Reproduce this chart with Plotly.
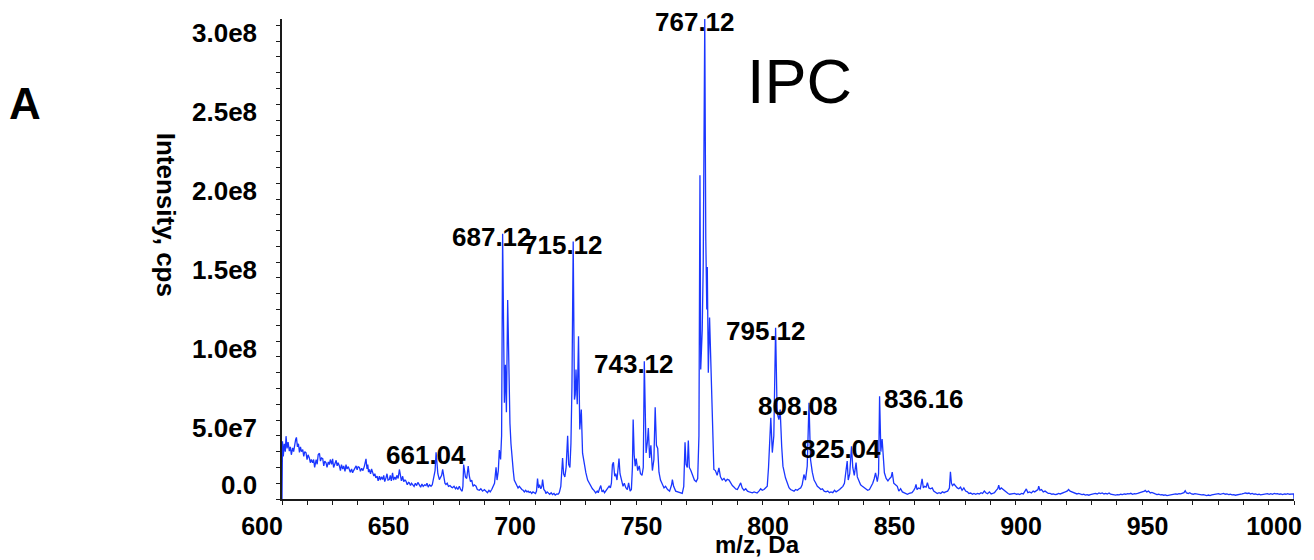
import plotly.graph_objects as go

# ---------------- data (m/z, intensity in 1e6 cps) ----------------
SEG_600_660 = [
    (600.0, 0), (600.2, 36.6), (600.5, 27), (600.9, 35), (601.3, 30), (601.6, 39.8),
    (602.0, 32), (602.4, 36), (602.9, 30.3), (603.3, 33), (603.7, 28), (604.2, 32.4),
    (604.6, 30), (605.0, 35), (605.4, 37.7), (605.7, 39), (606.1, 33), (606.5, 35),
    (606.9, 29.5), (607.3, 33), (607.7, 30), (608.2, 31.3), (608.6, 27), (609.0, 30),
    (609.5, 29.2), (609.9, 25), (610.3, 28), (610.8, 26), (611.2, 23), (611.6, 25),
    (612.1, 22.9), (612.5, 25), (612.9, 20), (613.5, 25), (613.9, 22), (614.3, 28),
    (614.8, 29), (615.2, 24), (615.6, 26), (616.1, 25.5), (616.5, 21), (616.9, 24),
    (617.4, 22.9), (617.8, 20), (618.3, 23.5), (618.7, 21.8), (619.1, 25), (619.6, 22),
    (620.0, 25.4), (620.4, 20), (620.9, 23), (621.4, 24.5), (621.8, 21), (622.2, 23),
    (622.7, 20.8), (623.1, 18), (623.5, 21.8), (624.0, 19), (624.4, 21), (624.9, 17.5),
    (625.3, 21.8), (625.7, 19), (626.2, 20.5), (626.6, 18.5), (627.0, 17), (627.5, 19),
    (627.9, 16.6), (628.3, 18), (628.8, 20), (629.3, 21), (629.7, 18.5), (630.1, 20.5),
    (630.6, 20), (631.0, 17.5), (631.5, 19.5), (632.0, 18), (632.6, 21), (633.2, 25.4),
    (633.6, 19), (633.9, 21.8), (634.2, 17), (634.5, 18.7), (635.0, 16), (635.4, 19),
    (635.8, 17), (636.3, 14.5), (636.7, 16), (637.1, 13.4), (637.6, 14.5), (638.0, 11.5),
    (638.5, 14.4), (638.9, 12), (639.3, 14), (639.8, 12.3), (640.2, 15), (640.6, 11),
    (641.1, 13.4), (641.5, 16), (641.9, 12), (642.4, 12.3), (642.8, 15), (643.2, 11.5),
    (643.7, 16.6), (644.1, 12), (644.6, 14), (645.0, 12.3), (645.4, 15), (645.9, 13),
    (646.4, 18.7), (646.8, 14), (647.2, 11.5), (647.7, 14.4), (648.1, 11), (648.6, 12),
    (649.0, 11.3), (649.5, 9), (650.0, 10.5), (650.3, 10.3), (650.8, 8.5), (651.2, 10),
    (651.6, 9.2), (652.2, 8), (652.7, 10), (653.2, 8.5), (653.7, 10.5), (654.3, 9.2),
    (654.8, 7.5), (655.3, 9.5), (655.8, 8), (656.4, 9), (656.9, 8.5), (657.3, 10),
    (657.8, 7.5), (658.3, 9), (658.9, 8.1), (659.4, 9), (659.8, 12),
]

SEG_660_730 = [
    (660.2, 14), (660.5, 18), (660.9, 29.6), (661.2, 20), (661.6, 16), (662.2, 12.3),
    (662.6, 14), (663.1, 15), (663.5, 18.7), (663.9, 13), (664.4, 10), (664.8, 9.2),
    (665.3, 10), (665.8, 8), (666.4, 8.5), (667.0, 7.5), (667.4, 7.1), (668.0, 8),
    (668.6, 6.5), (669.0, 7.5), (669.5, 6), (670.1, 8.1), (670.6, 6), (671.2, 4.9),
    (671.5, 8), (671.8, 21.8), (672.1, 18), (672.5, 14), (673.0, 13), (673.6, 20.9),
    (674.0, 15), (674.5, 11), (675.0, 12), (675.5, 8), (676.0, 9), (676.7, 8.1),
    (677.2, 6), (678.0, 5.5), (678.6, 6.5), (679.3, 5), (680.0, 6), (680.6, 5),
    (681.2, 4), (681.8, 5.5), (682.3, 4.5), (682.9, 6), (683.5, 8), (684.0, 10),
    (684.6, 20), (685.0, 12), (685.5, 18), (685.9, 31), (686.4, 25), (686.8, 40),
    (687.2, 168), (687.6, 70), (687.9, 61), (688.3, 85), (688.7, 55), (689.2, 126),
    (689.6, 78), (690.1, 48), (690.5, 35), (690.9, 25), (691.4, 18), (691.8, 12),
    (692.3, 10), (692.8, 9), (693.3, 7), (693.8, 8), (694.3, 6.5), (694.8, 6),
    (695.3, 5.5), (695.8, 4.5), (696.3, 5.5), (696.8, 4.5), (697.3, 5), (697.7, 4.2),
    (698.2, 4.5), (698.7, 3.5), (699.2, 4.5), (699.7, 4), (700.2, 3.5), (700.6, 5),
    (701.0, 13), (701.4, 7), (701.8, 9), (702.3, 6.5), (702.7, 8), (703.0, 12.3),
    (703.5, 6), (704.0, 5), (704.3, 3.5), (704.8, 4.5), (705.3, 3.5), (705.8, 3),
    (706.4, 4), (706.9, 2.8), (707.5, 3.5), (708.0, 2.5), (708.6, 3.2), (709.1, 3),
    (709.6, 4), (710.2, 8), (710.6, 18), (710.9, 26), (711.3, 16), (711.8, 14),
    (712.3, 20), (712.9, 40), (713.3, 22), (713.8, 20), (714.2, 35), (714.6, 71),
    (715.1, 163), (715.6, 63), (715.9, 66), (716.2, 82), (716.7, 60), (717.2, 103),
    (717.7, 44), (718.3, 56.6), (718.8, 29), (719.4, 22), (720.1, 16.7), (720.8, 12),
    (721.4, 10.3), (722.0, 8), (722.7, 6.5), (723.3, 5.5), (724.0, 3.9), (724.6, 5),
    (725.0, 4), (725.4, 6), (726.0, 8.5), (726.5, 4.5), (727.0, 5.5), (727.5, 4),
    (728.0, 5), (728.6, 6.5), (729.3, 8.1), (729.8, 7),
]

SEG_730_800 = [
    (730.2, 10), (730.6, 21.8), (731.0, 23.3), (731.5, 14.4), (731.9, 16), (732.4, 12),
    (732.8, 18), (733.2, 25.6), (733.6, 16), (734.2, 12), (734.8, 8), (735.3, 10),
    (735.9, 7.1), (736.5, 6), (737.0, 10.2), (737.6, 5), (738.1, 6), (738.5, 20),
    (738.8, 50.3), (739.2, 28), (739.6, 20.8), (740.0, 25.6), (740.6, 18), (741.2, 21),
    (741.7, 16), (742.3, 15), (742.8, 20), (743.2, 87.2), (743.5, 45), (743.9, 29.2),
    (744.4, 35.8), (744.8, 45), (745.3, 26), (745.8, 34), (746.4, 18), (747.0, 25),
    (747.5, 58.1), (748.0, 34), (748.5, 32), (749.0, 17), (749.6, 12), (750.3, 9),
    (751.0, 7), (751.6, 8), (752.4, 6), (753.2, 5), (754.0, 9), (754.3, 12.3),
    (754.8, 8), (755.6, 5), (756.3, 4.5), (757.2, 4), (758.2, 3.5), (758.8, 8),
    (759.3, 36), (759.7, 22), (760.2, 20), (760.6, 37), (761.0, 20), (761.6, 18),
    (762.3, 15), (763.0, 12), (763.7, 11), (764.3, 13), (764.8, 40), (765.2, 205),
    (765.5, 82), (766.1, 107), (766.5, 150), (767.1, 304), (767.5, 165), (767.9, 120),
    (768.1, 147), (768.5, 80), (769.0, 115), (769.6, 75.6), (770.1, 40), (770.7, 18.7),
    (771.3, 18), (772.0, 15), (772.7, 19.7), (773.3, 14), (774.0, 12), (774.7, 13),
    (775.4, 11.3), (776.0, 12.5), (776.7, 12), (777.3, 10), (778.0, 8.5), (778.7, 7.5),
    (779.3, 6.4), (780.0, 6), (780.7, 8), (781.3, 10.2), (781.9, 7), (782.6, 5.5),
    (783.3, 6.5), (784.0, 5), (784.7, 4.5), (785.3, 4), (785.9, 3.9), (786.6, 4.5),
    (787.2, 4), (787.8, 3.8), (788.5, 5), (789.2, 6.5), (789.8, 5.5), (790.5, 6),
    (791.1, 7), (791.8, 8.1), (792.3, 20), (792.7, 37.7), (793.2, 51.4), (793.8, 29.4),
    (794.4, 40), (795.1, 108.4), (795.7, 54.6), (796.4, 50.3), (796.9, 56.7), (797.5, 33.4),
    (798.0, 20.8), (799.0, 13.4), (799.7, 10),
]

SEG_800_870 = [
    (800.4, 7.1), (801.0, 6), (801.7, 5.5), (802.4, 5), (803.0, 6), (803.7, 5.5),
    (804.4, 6.5), (805.0, 7), (805.6, 9), (806.3, 15.5), (806.9, 12), (807.6, 20.8),
    (808.3, 61), (808.9, 25), (809.6, 17), (810.3, 12), (810.9, 10.3), (811.6, 8),
    (812.3, 7.1), (813.0, 6), (813.6, 6.5), (814.3, 5), (815.0, 4.5), (815.7, 5),
    (816.4, 4), (817.0, 4.5), (817.7, 4), (818.4, 5.5), (819.0, 4.5), (819.7, 5),
    (820.4, 6), (821.0, 7), (821.7, 8), (822.3, 10), (823.0, 22), (823.4, 24),
    (823.8, 12), (824.4, 16), (825.1, 33.4), (825.6, 20), (826.2, 15), (826.9, 23),
    (827.4, 14), (828.0, 11), (828.7, 9), (829.4, 8), (830.1, 7), (830.8, 6.5),
    (831.5, 5.5), (832.2, 6), (832.9, 8), (833.5, 10), (834.1, 13), (834.6, 16.6),
    (835.3, 11), (835.8, 16), (836.2, 65), (836.7, 30), (837.2, 38), (837.7, 24),
    (838.1, 16.6), (838.8, 13), (839.5, 11.5), (840.2, 13), (840.8, 14), (841.2, 17),
    (841.8, 10), (842.5, 9), (843.2, 8), (843.8, 5), (844.5, 6.5), (845.2, 4.5),
    (845.9, 4), (846.6, 3.5), (847.2, 3), (847.9, 3.5), (848.5, 4), (849.0, 4),
    (849.7, 5.5), (850.2, 7), (850.6, 9.2), (851.0, 6), (851.6, 7), (852.3, 6.5),
    (853.0, 12.8), (853.5, 7), (854.0, 8), (854.6, 7.5), (855.1, 10.3), (855.7, 7),
    (856.3, 6.5), (857.0, 7), (857.6, 5), (858.3, 4.5), (859.0, 3.5), (859.7, 4),
    (860.4, 3.5), (861.0, 4.5), (861.7, 4), (862.3, 4.5), (863.1, 5), (863.8, 7),
    (864.2, 17.2), (864.6, 10), (865.0, 8.5), (865.6, 9.5), (866.2, 8), (866.9, 7),
    (867.5, 6.5), (868.2, 7.5), (868.8, 5.5), (869.5, 7),
]

SEG_870_935 = [
    (870.2, 5), (870.9, 4.5), (871.5, 3.5), (872.2, 3.8), (872.9, 3), (873.5, 3.5),
    (874.2, 3), (874.9, 3.5), (875.6, 3.2), (876.3, 4), (876.9, 3.5), (877.6, 5),
    (878.3, 3.8), (878.9, 3.4), (879.6, 4.5), (880.3, 3.2), (880.9, 3.5), (881.6, 4),
    (882.3, 5.5), (882.9, 6.5), (883.3, 8.7), (883.7, 6), (884.3, 7), (885.0, 6),
    (885.6, 5), (886.3, 4.5), (887.0, 3.5), (887.6, 3), (888.3, 3.2), (889.0, 3),
    (889.6, 3.5), (890.3, 3), (891.0, 3.2), (891.6, 2.8), (892.3, 3.5), (893.0, 3.2),
    (893.6, 4.5), (894.2, 6.4), (894.8, 4), (895.5, 4.5), (896.2, 3.8), (896.9, 5),
    (897.5, 4.5), (898.2, 5.5), (898.8, 6), (899.1, 8.1), (899.6, 5.5), (900.2, 6),
    (900.9, 4.5), (901.6, 5), (902.2, 4), (902.9, 3.5), (903.6, 3.5), (904.3, 3),
    (904.9, 3.2), (905.6, 2.8), (906.3, 3), (906.9, 3.5), (907.6, 3.2), (908.3, 3.5),
    (908.9, 3.8), (909.6, 4.5), (910.3, 5), (910.9, 6), (911.5, 5), (912.2, 4.5),
    (912.9, 4), (913.5, 3.8), (914.2, 3.2), (914.9, 3.5), (915.5, 3), (916.2, 2.8),
    (916.9, 3), (917.5, 2.5), (918.2, 2.8), (918.9, 2.4), (919.5, 2.8), (920.2, 3),
    (920.9, 3.2), (921.5, 3.5), (922.2, 3.2), (922.9, 3.8), (923.5, 3.4), (924.2, 3.8),
    (924.9, 3.2), (925.5, 3.5), (926.2, 3.2), (926.9, 3.8), (927.5, 3), (928.2, 2.8),
    (928.9, 3), (929.5, 2.5), (930.2, 2.8), (930.9, 2.6), (931.5, 3), (932.2, 2.8),
    (932.9, 3.2), (933.5, 3), (934.2, 3.4), (934.9, 3.2),
]

SEG_935_1000 = [
    (935.5, 3.6), (936.2, 3), (936.9, 3.4), (937.5, 3.2), (938.2, 3.5), (938.9, 3.8),
    (939.5, 4.2), (940.2, 4.5), (940.9, 5), (941.2, 5.4), (941.8, 4.5), (942.5, 5),
    (943.2, 3.8), (943.8, 4.2), (944.5, 3.5), (945.2, 3.2), (945.8, 2.8), (946.5, 3),
    (947.2, 2.6), (947.8, 2.8), (948.5, 2.4), (949.2, 2.6), (949.8, 2.2), (950.5, 2.5),
    (951.2, 2.8), (951.8, 2.6), (952.5, 3), (953.2, 3.2), (953.8, 3), (954.5, 3.4),
    (955.2, 3.2), (955.8, 3.6), (956.5, 4), (957.0, 5.2), (957.5, 3.8), (958.2, 3.5),
    (958.8, 4), (959.5, 3.2), (960.2, 3), (960.8, 3.4), (961.5, 3.2), (962.2, 2.8),
    (962.8, 3), (963.5, 2.6), (964.2, 2.8), (964.8, 2.4), (965.5, 2.2), (966.2, 2.5),
    (966.8, 2.2), (967.5, 2.6), (968.2, 2.8), (968.8, 3.2), (969.5, 3), (970.2, 3.4),
    (970.8, 3), (971.5, 3.2), (972.2, 3.5), (972.8, 3), (973.5, 3.2), (974.2, 2.8),
    (974.8, 3), (975.5, 2.6), (976.2, 2.8), (976.8, 2.4), (977.5, 2.6), (978.2, 2.4),
    (978.8, 2.8), (979.5, 3.2), (980.2, 3.5), (980.8, 3.8), (981.5, 3.5), (982.2, 3.8),
    (982.8, 3.2), (983.5, 3.5), (984.2, 3), (984.8, 3.2), (985.5, 2.8), (986.2, 3),
    (986.8, 2.6), (987.5, 2.8), (988.2, 2.6), (988.8, 3.2), (989.5, 3.4), (990.2, 3),
    (990.8, 3.4), (991.5, 3), (992.2, 3.5), (992.8, 3.2), (993.5, 3.4), (994.2, 3),
    (994.8, 3.2), (995.5, 2.8), (996.2, 3.2), (996.8, 3), (997.5, 3.4), (998.2, 3),
    (998.8, 3.2), (999.5, 3), (999.9, 3.2), (1000.0, 0),
]

PEAK_LABELS = ["661.04", "687.12", "715.12", "743.12", "767.12",
               "795.12", "808.08", "825.04", "836.16"]

X_TICKS = [600, 650, 700, 750, 800, 850, 900, 950, 1000]
Y_TICKS = [0, 5.0e7, 1.0e8, 1.5e8, 2.0e8, 2.5e8, 3.0e8]
Y_TICK_TEXT = ["0.0", "5.0e7", "1.0e8", "1.5e8", "2.0e8", "2.5e8", "3.0e8"]

# ---------------- build ----------------
segments = [SEG_600_660, SEG_660_730, SEG_730_800, SEG_800_870, SEG_870_935, SEG_935_1000]
mz = [p[0] for s in segments for p in s]
intensity = [p[1] * 1e6 for s in segments for p in s]

FONT = "Liberation Sans, Arial, Helvetica, sans-serif"
BLUE = "#1a36ff"
AXIS = "#1a1a1a"

fig = go.Figure()
fig.add_trace(go.Scatter(x=mz, y=intensity, mode="lines",
                         line=dict(color=BLUE, width=1.3), hoverinfo="skip",
                         showlegend=False))

# peak labels (placed next to the tallest point near each labelled m/z)
label_style = {"836.16": ("left", 3)}
for lab in PEAK_LABELS:
    v = float(lab)
    top = max(i for m, i in zip(mz, intensity) if abs(m - v) <= 0.6)
    anchor, shift = label_style.get(lab, ("center", -10))
    fig.add_annotation(x=v, y=top, xref="x", yref="y", text=lab, showarrow=False,
                       xanchor=anchor, yanchor="middle", xshift=shift, yshift=-3,
                       font=dict(family=FONT, size=26, color="black", weight="bold"))

# y tick labels (drawn below their ticks as in the original software)
for val, txt in zip(Y_TICKS, Y_TICK_TEXT):
    ys = 14 if val == 0 else -8
    fig.add_annotation(x=0, xref="paper", y=val, yref="y", text=txt, showarrow=False,
                       xanchor="right", yanchor="middle", xshift=-23, yshift=ys,
                       font=dict(family=FONT, size=26, color="black", weight="bold"))

fig.add_annotation(x=0.470, y=-0.094, xref="paper", yref="paper", text="m/z, Da",
                   showarrow=False, xanchor="center", yanchor="middle",
                   font=dict(family=FONT, size=24, color="black", weight="bold"))
fig.add_annotation(x=-0.115, y=0.593, xref="paper", yref="paper", text="Intensity, cps",
                   showarrow=False, textangle=90, xanchor="center", yanchor="middle",
                   font=dict(family=FONT, size=26, color="black", weight="bold"))
fig.add_annotation(x=-0.2535, y=0.824, xref="paper", yref="paper", text="A",
                   showarrow=False, xanchor="center", yanchor="middle",
                   font=dict(family=FONT, size=44, color="black", weight="bold"))
fig.add_annotation(x=0.511, y=0.870, xref="paper", yref="paper", text="IPC",
                   showarrow=False, xanchor="center", yanchor="middle",
                   font=dict(family=FONT, size=63, color="black"))

fig.update_xaxes(range=[600, 1000], tickvals=X_TICKS, ticktext=[str(t) for t in X_TICKS],
                 ticks="outside", ticklen=4, tickwidth=1, tickcolor=AXIS,
                 showline=True, linecolor=AXIS, linewidth=1.5, showgrid=False, zeroline=False,
                 ticklabelshift=-20, ticklabelstandoff=0,
                 tickfont=dict(family=FONT, size=25, color="black", weight="bold"),
                 minor=dict(dtick=10, tick0=600, ticks="outside", ticklen=4, tickcolor=AXIS,
                            tickwidth=1, showgrid=False),
                 layer="below traces")
fig.update_yaxes(range=[0, 3.04e8], tickvals=Y_TICKS, showticklabels=False,
                 ticks="outside", ticklen=4, tickwidth=1, tickcolor=AXIS,
                 showline=True, linecolor=AXIS, linewidth=1.5, showgrid=False, zeroline=False,
                 minor=dict(dtick=1e7, tick0=0, ticks="outside", ticklen=4, tickcolor=AXIS,
                            tickwidth=1, showgrid=False),
                 layer="below traces")

fig.update_layout(width=1314, height=560, margin=dict(l=282, r=18, t=19, b=61),
                  plot_bgcolor="white", paper_bgcolor="white",
                  font=dict(family=FONT, color="black"))

fig.write_html("out.html")
